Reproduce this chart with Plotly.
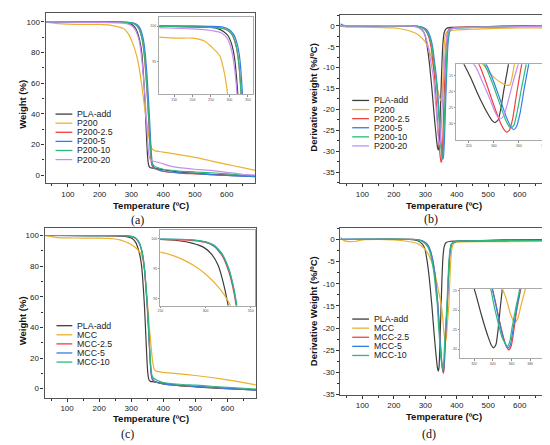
import plotly.graph_objects as go

W, H = 550, 445

# ---------------- (a) TGA, P200 series ----------------
t_pla_tga = [30, 100, 200, 250, 270, 285, 298, 307, 314, 319, 323.5, 328, 333, 337, 341, 344, 347, 350, 353, 356, 360, 370, 400, 450, 500, 550, 600, 650, 690]
w_pla_tga = [100, 100, 99.9, 99.8, 99.6, 99.2, 98.5, 97.3, 95.5, 93, 90, 86, 79, 68, 55, 42, 28, 15, 8, 5.5, 4.8, 4.5, 3.5, 2, 1.2, 0.5, 0, -0.4, -0.7]

t_p200_tga = [30, 50, 70, 100, 150, 200, 232, 253, 274, 286, 295, 302, 310, 317, 324, 331, 338, 345, 352, 358, 363, 368, 375, 400, 450, 500, 550, 600, 650, 690]
w_p200_tga = [100, 99.3, 98.8, 98.5, 98.3, 98.3, 97.9, 97, 95.8, 93.5, 90.5, 87, 82.5, 77.5, 70.5, 61, 50, 39, 29, 22, 18, 16.5, 15.8, 15, 13.3, 11.5, 9.3, 7, 4.8, 3]

t_p25_tga = [30, 200, 270, 295, 308, 318, 325, 330, 334, 338, 342, 346, 350, 353, 356, 359, 362, 365, 370, 380, 400, 450, 500, 550, 600, 650, 690]
w_p25_tga = [100, 100, 99.8, 99.4, 98.7, 97.2, 95, 92, 88.5, 83, 75, 64, 52, 41, 29, 17, 9, 6, 4.5, 3.8, 2.5, 1.3, 0.8, 0.3, -0.2, -0.6, -1]

t_p5_tga = [30, 200, 280, 300, 312, 322, 328, 333, 337, 341, 345, 349, 353, 356, 359, 362, 365, 368, 373, 380, 400, 450, 500, 550, 600, 650, 690]
w_p5_tga = [100, 100, 99.9, 99.5, 98.8, 97.3, 95.5, 92.5, 89, 84, 76, 65, 52, 41, 29, 17, 9, 6, 4.5, 3.8, 2.5, 1.5, 1, 0.3, -0.3, -0.7, -1]

t_p10_tga = [30, 200, 280, 300, 311, 320, 326, 331, 335, 339, 343, 347, 351, 354, 357, 360, 363, 366, 372, 380, 400, 450, 500, 550, 600, 650, 690]
w_p10_tga = [100, 99.9, 99.7, 99.3, 98.5, 96.9, 94.5, 91, 87.5, 82, 74, 63, 50, 39, 28, 17, 10, 7.5, 6, 5, 3.8, 2.6, 2, 1.5, 0.8, 0, -0.5]

t_p20_tga = [30, 100, 200, 260, 280, 295, 305, 313, 319, 324, 329, 334, 339, 343, 347, 350, 353, 356, 360, 365, 370, 390, 420, 450, 500, 550, 600, 650, 690]
w_p20_tga = [100, 99.8, 99.6, 99.3, 99, 98.2, 96.8, 94.5, 91.5, 88, 82, 73, 61, 50, 37, 26, 17, 12, 10, 9.3, 9, 8, 6, 4.8, 3.8, 3, 1.8, 0.5, 0]

# ---------------- (b) DTG, P200 series ----------------
t_pla_dtg = [30, 250, 275, 290, 298, 306, 313, 318, 322, 327, 331, 335, 338.5, 341, 343.5, 345.5, 348, 350.5, 353, 356, 360, 366, 380, 450, 550, 690]
d_pla_dtg = [0, 0, -0.3, -1, -2, -5, -9, -12.8, -16, -20.5, -23.8, -26.8, -29, -29.7, -28.8, -25.5, -19.5, -14, -8.5, -4, -1.6, -0.7, -0.4, -0.3, -0.1, 0]

t_p200_dtg = [30, 50, 100, 200, 240, 270, 290, 305, 315, 322, 328, 332, 337, 342, 347, 351, 353, 355, 357, 359, 362, 366, 375, 400, 500, 600, 690]
d_p200_dtg = [-0.1, -0.3, -0.3, -0.5, -1, -1.8, -3, -4.5, -6.5, -8.5, -10.5, -11.8, -14.3, -16.2, -17.5, -18.1, -17.8, -14.5, -10, -6, -3, -1.7, -1.2, -1, -0.7, -0.5, -0.5]

t_p25_dtg = [30, 260, 285, 300, 310, 318, 324, 329, 335, 340, 345, 348, 350.3, 352.5, 355, 358, 361, 364, 367, 371, 376, 400, 500, 690]
d_p25_dtg = [0, 0, -0.3, -1, -2.5, -5, -8.5, -12.2, -18.5, -24.3, -29.5, -31.8, -32.7, -32, -28.5, -21, -14, -8, -4, -1.5, -0.7, -0.4, -0.2, 0]

t_p5_dtg = [30, 40, 260, 290, 305, 315, 323, 329, 335, 340, 345, 350, 353.5, 355.8, 358, 361, 364, 367, 370, 373, 377, 383, 400, 500, 690]
d_p5_dtg = [0.5, 0.1, 0, -0.3, -1, -2.5, -5, -8.5, -12.3, -17, -22.5, -28, -31, -31.9, -31, -26.5, -19.5, -13, -7, -3.5, -1.5, -0.7, -0.5, -0.3, 0]

t_p10_dtg = [30, 260, 285, 300, 312, 321, 327, 333.6, 339, 344, 349, 352, 353.7, 356, 359, 362, 365, 368, 371, 375, 381, 400, 500, 690]
d_p10_dtg = [0, 0, -0.3, -1, -2.5, -5, -8.5, -12.3, -17.5, -23, -28.5, -30.8, -31.4, -30.5, -25.5, -19, -13, -7, -3.5, -1.5, -0.7, -0.5, -0.3, 0]

t_p20_dtg = [30, 250, 275, 290, 300, 309, 316, 325.7, 331, 336, 340, 343, 345.3, 347.5, 350, 353, 356, 359, 362, 366, 370, 376, 400, 500, 690]
d_p20_dtg = [0, 0, -0.3, -1, -2.5, -5, -8, -12.3, -17, -21.5, -25.5, -27.8, -28.5, -27.8, -25, -20.5, -16, -12, -8, -4, -2, -1, -0.5, -0.3, -0.1]

# ---------------- (c) TGA, MCC series ----------------
t_mcc_tga = [30, 50, 70, 100, 150, 200, 230, 250, 265, 280, 292, 302, 312, 320, 327, 333, 338, 343, 348, 353, 358, 363, 368, 372, 377, 390, 400, 450, 500, 550, 600, 650, 690]
w_mcc_tga = [100, 99.2, 98.6, 98.4, 98.3, 98.3, 98.1, 97.7, 97.1, 96.1, 95, 93.8, 92.3, 90.8, 89, 86.5, 82.5, 75, 63, 50, 37, 25, 16, 12.5, 11.6, 11, 10.7, 9.7, 8.6, 7.3, 5.8, 4, 2.4]

t_mccx_tga = [30, 200, 280, 300, 310, 318, 325, 330, 334, 338, 342, 346, 350, 353, 356, 359, 362, 365, 370, 380, 400, 450, 500, 550, 600, 650, 690]
w_m25_tga = [100, 99.9, 99.7, 99.3, 98.6, 97.2, 94.8, 92, 88.7, 83.5, 76, 65, 53, 42, 30, 18, 10, 6.5, 5, 4, 3, 2, 1.4, 0.8, 0, -0.5, -1]
w_m5_tga = [100, 99.9, 99.8, 99.4, 98.7, 97.4, 95.1, 92.4, 89.1, 84, 76.8, 66, 54, 43, 31, 19, 10.5, 6.8, 5.2, 4.2, 3.1, 2.1, 1.5, 0.9, 0.2, -0.4, -0.9]
w_m10_tga = [100, 99.9, 99.8, 99.4, 98.8, 97.5, 95.3, 92.6, 89.4, 84.5, 77.5, 67, 55.5, 44.5, 33, 21, 12.5, 8.5, 6.8, 5.5, 4, 2.9, 2.3, 1.6, 0.9, 0.3, -0.2]

# ---------------- (d) DTG, MCC series ----------------
t_mcc_dtg = [30, 40, 60, 80, 100, 150, 200, 240, 270, 290, 305, 318, 328, 336, 343, 350.2, 355, 359, 363.6, 367, 370, 374.9, 378, 381, 385, 390, 400, 500, 690]
d_mcc_dtg = [0.5, -0.2, -0.5, -0.4, -0.1, 0, -0.1, -0.4, -0.8, -1.6, -2.8, -4.7, -7, -9.5, -12, -14.5, -17.5, -21, -23.2, -22, -19, -14.5, -9, -4.5, -1.8, -0.9, -0.6, -0.5, -0.4]

t_m25_dtg = [30, 270, 290, 305, 315, 323, 330, 336, 339, 343, 347, 351, 354, 357.2, 360, 363, 366, 370, 373, 376, 379, 384, 395, 450, 550, 690]
d_m25_dtg = [0, 0, -0.3, -1, -2.3, -4.5, -7.5, -11.5, -14, -18, -22.5, -26.5, -29, -30.2, -29, -24.5, -19.5, -14.5, -9.5, -5, -2.5, -1, -0.5, -0.4, -0.3, -0.2]

t_m5_dtg = [30, 270, 290, 305, 315, 323, 330, 336, 339.6, 344, 348, 352, 356.2, 359, 362, 366, 369.6, 373, 376, 379, 384, 395, 690]
d_m5_dtg = [0.1, 0, -0.3, -1, -2.3, -4.5, -7.5, -11.8, -14.5, -19.5, -24, -27.8, -29.8, -28.8, -24.5, -19, -14.5, -9, -5, -2.5, -1, -0.5, -0.2]

t_m10_dtg = [30, 265, 285, 300, 312, 320, 328, 334, 337.8, 342, 346, 350, 355.5, 358, 361, 365, 368.9, 372, 375, 378, 383, 395, 690]
d_m10_dtg = [0, 0, -0.3, -1, -2.3, -4.5, -8, -12, -14.5, -19.5, -23.5, -27, -29.3, -28.3, -24, -19, -14.5, -9, -5, -2.5, -1, -0.5, -0.2]

# ---------------- names / colours / ticks ----------------
p200_names = ["PLA-add", "P200", "P200-2.5", "P200-5", "P200-10", "P200-20"]
mcc_names = ["PLA-add", "MCC", "MCC-2.5", "MCC-5", "MCC-10"]
colors = ["#3d3d3d", "#ecb12f", "#f23f3f", "#2f7fe6", "#2db87c", "#c48ef0"]

dtg_ticks = [0, -5, -10, -15, -20, -25, -30, -35]
inset_dtg_ticks = [-15, -20, -25, -30]

FONT = "Liberation Sans"


def px_x(p):
    return p / W


def px_y(p):
    return 1 - p / H


def add_lines(fig, series, axis_id):
    for (x, y), name, col in series:
        fig.add_trace(go.Scatter(x=x, y=y, mode="lines", name=name,
                                 line=dict(color=col, width=1.2, shape="spline", smoothing=0.5),
                                 xaxis="x" + axis_id, yaxis="y" + axis_id, showlegend=False,
                                 hoverinfo="skip"))


fig = go.Figure()

series_a = list(zip([(t_pla_tga, w_pla_tga), (t_p200_tga, w_p200_tga), (t_p25_tga, w_p25_tga),
                     (t_p5_tga, w_p5_tga), (t_p10_tga, w_p10_tga), (t_p20_tga, w_p20_tga)], p200_names, colors))
series_b = list(zip([(t_pla_dtg, d_pla_dtg), (t_p200_dtg, d_p200_dtg), (t_p25_dtg, d_p25_dtg),
                     (t_p5_dtg, d_p5_dtg), (t_p10_dtg, d_p10_dtg), (t_p20_dtg, d_p20_dtg)], p200_names, colors))
series_c = list(zip([(t_pla_tga, w_pla_tga), (t_mcc_tga, w_mcc_tga), (t_mccx_tga, w_m25_tga),
                     (t_mccx_tga, w_m5_tga), (t_mccx_tga, w_m10_tga)], mcc_names, colors))
series_d = list(zip([(t_pla_dtg, d_pla_dtg), (t_mcc_dtg, d_mcc_dtg), (t_m25_dtg, d_m25_dtg),
                     (t_m5_dtg, d_m5_dtg), (t_m10_dtg, d_m10_dtg)], mcc_names, colors))

# main axes 1-4, insets 5-8
for s, main_id, inset_id in [(series_a, "", "5"), (series_b, "2", "6"), (series_c, "3", "7"), (series_d, "4", "8")]:
    add_lines(fig, s, main_id)
    add_lines(fig, s, inset_id)

# pixel boxes of each plot area: (left, right, top, bottom)
boxes = {
    "": (35, 247, 5, 177), "2": (333, 543, 7, 177),
    "3": (34, 248, 222, 394), "4": (333, 543, 222, 391),
    "5": (150, 245, 9, 87), "6": (450, 539, 57, 134),
    "7": (151, 247, 225, 301), "8": (454, 539, 284, 354),
}

tickc = "#333"
main_x = dict(range=[30, 690], tickmode="linear", tick0=0, dtick=100, ticks="outside", ticklen=3,
              tickcolor=tickc, minor=dict(ticks="outside", ticklen=2, tickmode="linear", tick0=0, dtick=50, tickcolor=tickc),
              showline=True, linecolor="#555", linewidth=1.3, mirror=True, showgrid=False, zeroline=False,
              tickfont=dict(family=FONT, size=8, color="#222"))
inset_common = dict(ticks="outside", ticklen=1.5, tickcolor="#888", showline=True, linecolor="#aaa",
                    linewidth=1, mirror=True, showgrid=False, zeroline=False,
                    tickfont=dict(family=FONT, size=3.5, color="#555"))

layout = {}
for k, (l, r, t, b) in boxes.items():
    layout["xaxis" + k] = dict(domain=[px_x(l), px_x(r)], anchor="y" + k)
    layout["yaxis" + k] = dict(domain=[px_y(b), px_y(t)], anchor="x" + k)

for k in ["", "2", "3", "4"]:
    layout["xaxis" + k].update(main_x)
    layout["yaxis" + k].update(dict(ticks="outside", ticklen=3, tickcolor=tickc, showline=True, linecolor="#555",
                                     linewidth=1.3, mirror=True, showgrid=False, zeroline=False,
                                     tickfont=dict(family=FONT, size=8, color="#222")))

layout["yaxis"].update(range=[-5.2, 105.8], tickmode="linear", tick0=0, dtick=20,
                       minor=dict(ticks="outside", ticklen=2, tickmode="linear", tick0=0, dtick=10, tickcolor=tickc))
layout["yaxis3"].update(range=[-5.8, 105.2], tickmode="linear", tick0=0, dtick=20,
                        minor=dict(ticks="outside", ticklen=2, tickmode="linear", tick0=0, dtick=10, tickcolor=tickc))
for k, rng in [("2", [-37.6, 2.6]), ("4", [-35, 2.7])]:
    layout["yaxis" + k].update(range=rng, tickmode="array", tickvals=dtg_ticks,
                               ticktext=[str(v) for v in dtg_ticks],
                               minor=dict(ticks="outside", ticklen=2, tickmode="linear", tick0=0, dtick=2.5, tickcolor=tickc))

for k in ["5", "6", "7", "8"]:
    layout["xaxis" + k].update(inset_common)
    layout["yaxis" + k].update(inset_common)

layout["xaxis5"].update(range=[110, 365], tickmode="linear", tick0=0, dtick=50)
layout["yaxis5"].update(range=[90.4, 101.3], tickmode="array", tickvals=[95, 100], ticktext=["95", "100"])
layout["xaxis6"].update(range=[310, 380], tickmode="linear", tick0=0, dtick=20)
layout["yaxis6"].update(range=[-35.3, -11.5], tickmode="array", tickvals=inset_dtg_ticks,
                        ticktext=[str(v) for v in inset_dtg_ticks])
layout["xaxis7"].update(range=[250, 355], tickmode="linear", tick0=0, dtick=50)
layout["yaxis7"].update(range=[88.85, 101.3], tickmode="array", tickvals=[90, 95, 100], ticktext=["90", "95", "100"])
layout["xaxis8"].update(range=[305, 395], tickmode="linear", tick0=0, dtick=20)
layout["yaxis8"].update(range=[-32.3, -14.5], tickmode="array", tickvals=inset_dtg_ticks,
                        ticktext=[str(v) for v in inset_dtg_ticks])

fig.update_layout(**layout)

# ---------------- hand-drawn legends ----------------
shapes = []
annotations = []
legend_spec = [
    (p200_names, [107.3, 116.5, 125.7, 134.9, 144.1, 153.3], 45, 62, 65),
    (p200_names, [93.5, 102.7, 111.9, 121.1, 130.3, 139.5], 345, 362, 364.5),
    (mcc_names, [321.3, 330.5, 339.7, 348.9, 358.1], 46, 62, 65),
    (mcc_names, [314.6, 323.8, 333, 342.2, 351.4], 345, 362, 365),
]
for names, ys, x0, x1, xt in legend_spec:
    for name, col, yy in zip(names, colors, ys):
        shapes.append(dict(type="line", xref="paper", yref="paper", x0=px_x(x0), x1=px_x(x1),
                           y0=px_y(yy), y1=px_y(yy), line=dict(color=col, width=1.3)))
        annotations.append(dict(text=name, x=px_x(xt), y=px_y(yy), xref="paper", yref="paper",
                                xanchor="left", yanchor="middle", showarrow=False,
                                font=dict(family=FONT, size=8.8, color="#222")))

title_font = dict(family=FONT, size=9.5, color="#111", weight="bold")
for text, x, y, angle in [
    ("Temperature (ºC)", 142, 199.5, 0), ("Temperature (ºC)", 438, 199.5, 0),
    ("Temperature (ºC)", 142, 415, 0), ("Temperature (ºC)", 438, 413, 0),
    ("Weight (%)", 12, 97, -90), ("Weight (%)", 12, 316, -90),
    ("Derivative weight (%/ºC)", 306, 90, -90), ("Derivative Weight (%/ºC)", 306, 307, -90),
]:
    annotations.append(dict(text=text, x=px_x(x), y=px_y(y), xref="paper", yref="paper",
                            xanchor="center", yanchor="middle", showarrow=False, textangle=angle,
                            font=title_font))

for text, x, y in [("(a)", 128, 214), ("(b)", 425, 213), ("(c)", 118, 431), ("(d)", 423, 431)]:
    annotations.append(dict(text=text, x=px_x(x), y=px_y(y), xref="paper", yref="paper",
                            xanchor="center", yanchor="middle", showarrow=False,
                            font=dict(family="Liberation Serif", size=12, color="#111")))

fig.update_layout(width=W, height=H, margin=dict(l=0, r=0, t=0, b=0),
                  paper_bgcolor="white", plot_bgcolor="white",
                  showlegend=False, shapes=shapes, annotations=annotations)

fig.write_html("out.html")
